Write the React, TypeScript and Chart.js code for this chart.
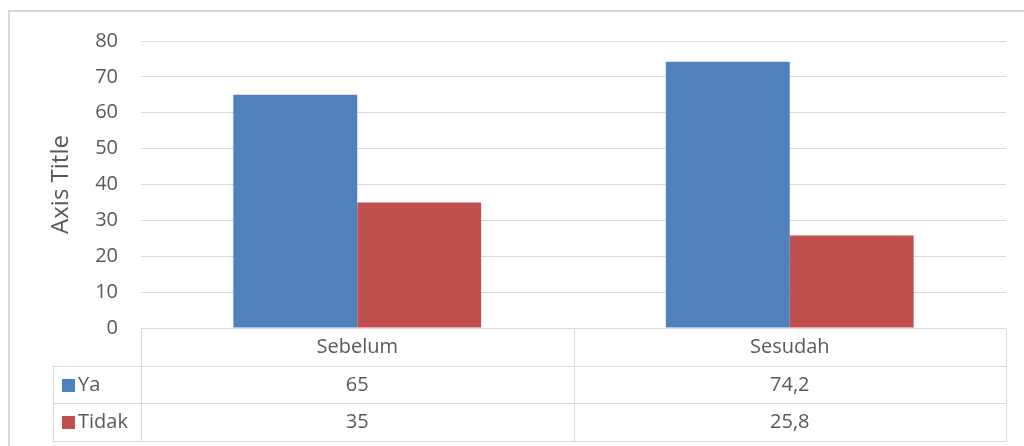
import React, { useEffect, useRef } from "react";
import { Chart, registerables } from "chart.js";

Chart.register(...registerables);

const categories = ["Sebelum", "Sesudah"];
const yaValues = [65, 74.2];
const tidakValues = [35, 25.8];
const seriesNames = ["Ya", "Tidak"];
const seriesColors = ["#4F81BD", "#C0504D"];
const yTicks = [0, 10, 20, 30, 40, 50, 60, 70, 80];
const axisTitle = "Axis Title";

const FONT = "'Open Sans', sans-serif";
const TEXT = "#595959";
const LINE = "#D9D9D9";

const fmt = (v: number) => String(v).replace(".", ",");

const tablePlugin = {
  id: "dataTable",
  beforeDraw(chart: any) {
    const ctx = chart.ctx;
    ctx.save();
    ctx.fillStyle = "#ffffff";
    ctx.fillRect(0, 0, chart.width, chart.height);
    ctx.strokeStyle = LINE;
    ctx.lineWidth = 2;
    ctx.strokeRect(9, 11, chart.width + 20, chart.height + 20);
    ctx.restore();
  },
  afterDraw(chart: any) {
    const ctx = chart.ctx;
    const area = chart.chartArea;
    const xs = chart.scales.x;
    const n = categories.length;
    const catW = (area.right - area.left) / n;
    const rowTop = area.bottom;
    const rowH = 37.7;
    const headLeft = 53;
    const rows = [rowTop, rowTop + rowH, rowTop + 2 * rowH, rowTop + 3 * rowH].map((v) => Math.round(v) + 0.5);
    ctx.save();
    ctx.strokeStyle = LINE;
    ctx.lineWidth = 1;
    ctx.beginPath();
    ctx.moveTo(area.left, rows[0]);
    ctx.lineTo(area.right, rows[0]);
    for (let r = 1; r < 4; r++) {
      ctx.moveTo(headLeft, rows[r]);
      ctx.lineTo(area.right, rows[r]);
    }
    for (let i = 0; i <= n; i++) {
      const x = Math.round(area.left + i * catW) + 0.5;
      ctx.moveTo(x, rows[0]);
      ctx.lineTo(x, rows[3]);
    }
    ctx.moveTo(headLeft + 0.5, rows[1]);
    ctx.lineTo(headLeft + 0.5, rows[3]);
    ctx.stroke();

    ctx.font = `20px ${FONT}`;
    ctx.fillStyle = TEXT;
    ctx.textBaseline = "middle";
    ctx.textAlign = "center";
    const seriesData = [yaValues, tidakValues];
    for (let i = 0; i < n; i++) {
      const cx = xs.getPixelForValue(i);
      ctx.fillText(categories[i], cx, (rows[0] + rows[1]) / 2);
      for (let s = 0; s < seriesData.length; s++) {
        ctx.fillText(fmt(seriesData[s][i]), cx, (rows[s + 1] + rows[s + 2]) / 2);
      }
    }
    ctx.textAlign = "left";
    for (let s = 0; s < seriesNames.length; s++) {
      const cy = (rows[s + 1] + rows[s + 2]) / 2;
      ctx.fillStyle = seriesColors[s];
      ctx.fillRect(62, Math.round(cy - 6.5), 13, 13);
      ctx.fillStyle = TEXT;
      ctx.fillText(seriesNames[s], 78, cy);
    }
    ctx.restore();
  },
};

export default function App() {
  const ref = useRef<HTMLCanvasElement>(null);
  useEffect(() => {
    if (!ref.current) return;
    const chart = new Chart(ref.current, {
      type: "bar",
      data: {
        labels: categories,
        datasets: [
          { label: seriesNames[0], data: yaValues, backgroundColor: seriesColors[0] },
          { label: seriesNames[1], data: tidakValues, backgroundColor: seriesColors[1] },
        ],
      },
      options: {
        responsive: false,
        animation: false,
        devicePixelRatio: 1,
        layout: { padding: { left: 8, top: 41, right: 18, bottom: 118 } },
        datasets: { bar: { categoryPercentage: 0.573, barPercentage: 1 } },
        plugins: { legend: { display: false }, tooltip: { enabled: false } },
        scales: {
          x: { display: false },
          y: {
            min: yTicks[0],
            max: yTicks[yTicks.length - 1],
            afterBuildTicks: (scale: any) => {
              scale.ticks = yTicks.map((v) => ({ value: v }));
            },
            afterFit: (scale: any) => {
              scale.width = 133;
            },
            border: { display: false },
            grid: { color: LINE, lineWidth: 1, drawTicks: false, tickLength: 0 },
            ticks: { color: TEXT, font: { family: FONT, size: 20 }, padding: 23 },
            title: {
              display: true,
              text: axisTitle,
              color: TEXT,
              font: { family: FONT, size: 24 },
              padding: { top: 39, bottom: 0 },
            },
          },
        },
      },
      plugins: [tablePlugin],
    });
    return () => chart.destroy();
  }, []);
  return (
    <canvas
      ref={ref}
      width={1024}
      height={446}
      style={{ position: "absolute", left: 0, top: 0, display: "block" }}
    />
  );
}
